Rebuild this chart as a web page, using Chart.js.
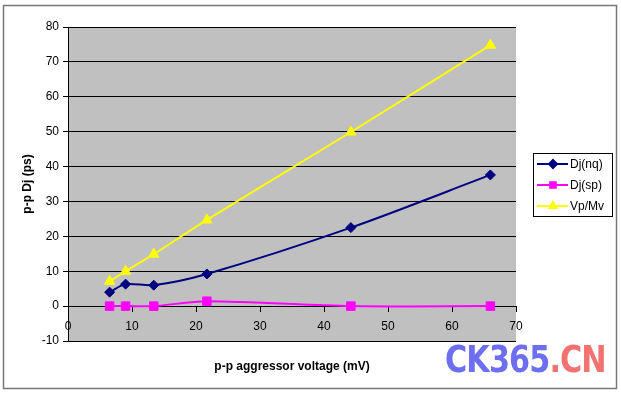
<!DOCTYPE html>
<html>
<head>
<meta charset="utf-8">
<script src="https://cdn.jsdelivr.net/npm/chart.js@4"></script>
<style>
  html, body { margin: 0; padding: 0; background: #fff; }
  #wrap { position: relative; width: 621px; height: 393px; }
  #mark { position: absolute; left: 445px; top: 338px; font-family: "DejaVu Sans Condensed", "DejaVu Sans", sans-serif;
          font-weight: bold; font-size: 37px; letter-spacing: -1px; transform: scaleX(0.91); transform-origin: left top; white-space: nowrap; }
  #mark .a { color: #6e6ef0; }
  #mark .b { color: #f27272; }
</style>
</head>
<body>
<div id="wrap">
  <canvas id="chart" width="621" height="393"></canvas>
  <div id="mark"><span class="a">CK365</span><span class="b">.CN</span></div>
</div>
<script>
// values
const voltage = [6.5, 9.0, 13.4, 21.7, 44.2, 66.0];
const djNq = [4.0, 6.3, 6.0, 9.2, 22.5, 37.6];
const djSp = [0, 0, 0, 1.4, 0, 0];
const vpMv = [7.1, 10.0, 14.9, 24.7, 49.9, 74.8];
const seriesNames = ["Dj(nq)", "Dj(sp)", "Vp/Mv"];
const xTicks = [0, 10, 20, 30, 40, 50, 60, 70];
const yTicks = [-10, 0, 10, 20, 30, 40, 50, 60, 70, 80];

function pts(ys) {
  return voltage.map((v, i) => ({ x: v, y: ys[i] }));
}

const styles = [
  { color: '#000080', point: 'rectRot', r: 5 },
  { color: '#ff00ff', point: 'rect', r: 6 },
  { color: '#ffff00', point: 'triangle', r: 6 }
];

const frame = {
  id: 'frame',
  beforeDraw(chart) {
    const c = chart.ctx, a = chart.chartArea;
    c.save();
    c.fillStyle = '#c0c0c0';
    c.fillRect(a.left, a.top, a.right - a.left, a.bottom - a.top);
    c.restore();
  },
  afterDraw(chart) {
    const c = chart.ctx, a = chart.chartArea;
    c.save();
    // outer border
    c.strokeStyle = '#777';
    c.lineWidth = 1.5;
    c.strokeRect(3.5, 5.5, 613, 383);
    // x title
    c.fillStyle = '#000';
    c.font = 'bold 12px "Liberation Sans", Arial, sans-serif';
    c.textAlign = 'center';
    c.textBaseline = 'middle';
    c.fillText('p-p aggressor voltage (mV)', (a.left + a.right) / 2, 367);
    // legend
    c.fillStyle = '#fff';
    c.fillRect(533, 153, 80, 64);
    c.strokeStyle = '#000';
    c.lineWidth = 1;
    c.strokeRect(533.5, 153.5, 79, 63);
    c.font = '12px "Liberation Sans", Arial, sans-serif';
    c.textAlign = 'left';
    const rows = [164, 185, 206];
    seriesNames.forEach((name, i) => {
      const s = styles[i], y = rows[i];
      c.strokeStyle = s.color;
      c.lineWidth = 2;
      c.beginPath();
      c.moveTo(537, y);
      c.lineTo(568, y);
      c.stroke();
      c.fillStyle = s.color;
      Chart.helpers.drawPoint(c, { pointStyle: s.point, radius: 4, borderWidth: 1 }, 553, y);
      c.fillStyle = '#000';
      c.fillText(name, 570, y + 1);
    });
    c.restore();
  }
};

const data = [djNq, djSp, vpMv];

new Chart(document.getElementById('chart'), {
  type: 'line',
  data: {
    datasets: seriesNames.map((name, i) => ({
      label: name,
      data: pts(data[i]),
      borderColor: styles[i].color,
      backgroundColor: styles[i].color,
      borderWidth: 2,
      pointStyle: styles[i].point,
      pointRadius: styles[i].r,
      pointBorderWidth: 1,
      tension: 0.3,
      fill: false
    }))
  },
  options: {
    responsive: false,
    animation: false,
    layout: { padding: { left: 0, right: 105, top: 27, bottom: 52 } },
    plugins: { legend: { display: false }, tooltip: { enabled: false }, title: { display: false } },
    scales: {
      x: {
        type: 'linear',
        position: { y: 0 },
        min: 0, max: 70,
        afterBuildTicks: s => { s.ticks = xTicks.map(v => ({ value: v })); },
        grid: { drawOnChartArea: false, drawTicks: true, tickLength: 5, color: '#000' },
        border: { display: true, color: '#000', width: 1 },
        ticks: { color: '#000', padding: 8, font: { family: '"Liberation Sans", Arial, sans-serif', size: 12 } }
      },
      y: {
        min: -10, max: 80,
        afterBuildTicks: s => { s.ticks = yTicks.map(v => ({ value: v })); },
        afterFit: s => { s.width = 68; },
        grid: { color: '#000', lineWidth: 1, tickLength: 5 },
        border: { display: true, color: '#000', width: 1 },
        ticks: { color: '#000', padding: 4, font: { family: '"Liberation Sans", Arial, sans-serif', size: 12 } },
        title: { display: true, text: 'p-p Dj (ps)', color: '#000', padding: { top: 20, bottom: 0 },
                 font: { family: '"Liberation Sans", Arial, sans-serif', size: 12, weight: 'bold' } }
      }
    }
  },
  plugins: [frame]
});
</script>
</body>
</html>
